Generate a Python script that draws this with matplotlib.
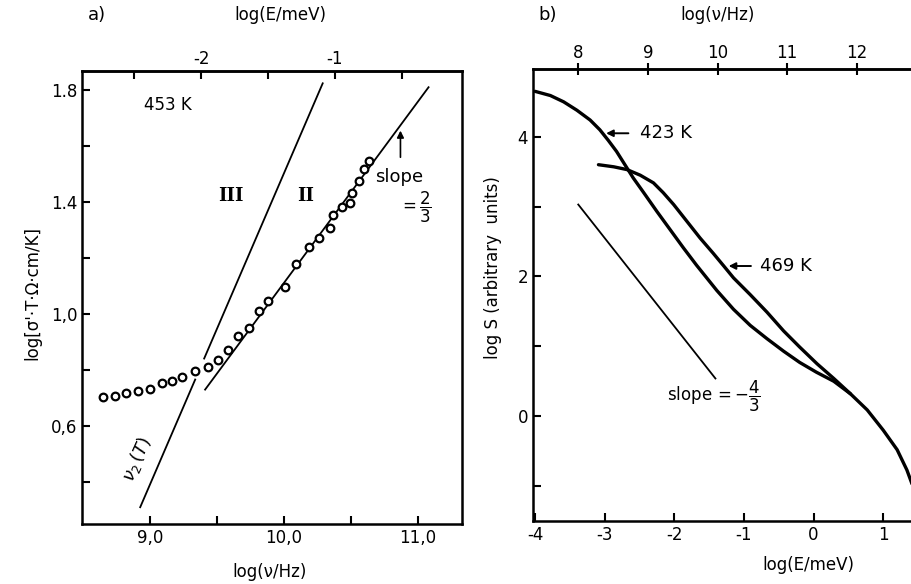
import numpy as np
import matplotlib
matplotlib.use("Agg")
import matplotlib.pyplot as plt
from matplotlib.ticker import FixedLocator, FixedFormatter

plt.rcParams['font.family'] = ['DejaVu Sans']
plt.rcParams['axes.unicode_minus'] = False

# h in meV*s -> log(E/meV) = log(nu/Hz) + LOG_H
LOG_H = -11.38

# panel a: measured points, log(nu/Hz) vs log(sigma' T)
nu_a = [8.644, 8.739, 8.821, 8.908, 9.000, 9.087, 9.166, 9.241, 9.336, 9.431,
        9.505, 9.580, 9.659, 9.739, 9.813, 9.883, 10.007, 10.087, 10.187, 10.263,
        10.343, 10.368, 10.431, 10.493, 10.505, 10.560, 10.599, 10.634]
sig_a = [0.703, 0.707, 0.717, 0.726, 0.733, 0.752, 0.762, 0.776, 0.797, 0.812,
         0.836, 0.871, 0.921, 0.949, 1.012, 1.048, 1.095, 1.177, 1.238, 1.270,
         1.308, 1.354, 1.383, 1.395, 1.431, 1.476, 1.517, 1.548]

# nu_2(T) line (two pieces, broken where it meets the data)
nu2_lo_x = [8.925, 9.336]
nu2_lo_y = [0.310, 0.766]
nu2_hi_x = [9.403, 10.289]
nu2_hi_y = [0.841, 1.824]

# slope 2/3 line
s23_x = [9.41, 11.08]
s23_y = [0.73, 1.81]

# panel b: log S vs log(E/meV)
E_423 = [-4.00, -3.78, -3.59, -3.40, -3.21, -3.07, -2.95, -2.83, -2.71, -2.59,
         -2.44, -2.25, -2.06, -1.87, -1.68, -1.39, -1.15, -0.91, -0.67, -0.43,
         -0.20, 0.04, 0.29, 0.53, 0.77, 1.00, 1.20, 1.34, 1.41, 1.47]
S_423 = [4.65, 4.59, 4.50, 4.38, 4.24, 4.10, 3.95, 3.79, 3.60, 3.41,
         3.20, 2.93, 2.67, 2.41, 2.16, 1.80, 1.53, 1.30, 1.11, 0.93,
         0.77, 0.63, 0.50, 0.32, 0.09, -0.20, -0.48, -0.77, -0.96, -1.12]
E_469 = [-3.09, -2.87, -2.68, -2.49, -2.30, -2.16, -2.01, -1.82, -1.63, -1.44,
         -1.29, -1.15, -0.91, -0.67, -0.43, -0.20, 0.05, 0.29, 0.53]
S_469 = [3.60, 3.57, 3.53, 3.45, 3.34, 3.20, 3.03, 2.79, 2.55, 2.33,
         2.15, 1.98, 1.74, 1.49, 1.22, 0.99, 0.75, 0.54, 0.32]

s43_x = [-3.38, -1.41]
s43_y = [3.03, 0.54]

fig = plt.figure(figsize=(9.11, 5.84), dpi=100)
W, H = 911.0, 584.0


def box(x0, y0, x1, y1):
    return [x0 / W, 1 - y1 / H, (x1 - x0) / W, (y1 - y0) / H]


lw_sp = 1.8
fs = 12

# ---------------- panel a ----------------
ax = fig.add_axes(box(82, 71, 462, 524))
ax.set_xlim(8.49, 11.33)
ax.set_ylim(0.25, 1.868)
for s in ax.spines.values():
    s.set_linewidth(lw_sp)

ax.plot(nu2_lo_x, nu2_lo_y, color='k', lw=1.3)
ax.plot(nu2_hi_x, nu2_hi_y, color='k', lw=1.3)
ax.plot(s23_x, s23_y, color='k', lw=1.3, zorder=2)
ax.plot(nu_a, sig_a, 'o', ms=5.5, mfc='white', mec='k', mew=1.6, zorder=3)

ax.xaxis.set_major_locator(FixedLocator([9.0, 10.0, 11.0]))
ax.xaxis.set_major_formatter(FixedFormatter(['9,0', '10,0', '11,0']))
ax.xaxis.set_minor_locator(FixedLocator([9.5, 10.5]))
ax.yaxis.set_major_locator(FixedLocator([0.6, 1.0, 1.4, 1.8]))
ax.yaxis.set_major_formatter(FixedFormatter(['0,6', '1,0', '1.4', '1.8']))
ax.yaxis.set_minor_locator(FixedLocator([0.4, 0.8, 1.2, 1.6]))
ax.tick_params(which='both', direction='in', length=6, width=1.5, labelsize=fs, top=False)

top = ax.secondary_xaxis('top', functions=(lambda x: x + LOG_H, lambda e: e - LOG_H))
top.xaxis.set_major_locator(FixedLocator([-2, -1]))
top.xaxis.set_major_formatter(FixedFormatter(['-2', '-1']))
top.xaxis.set_minor_locator(FixedLocator([-2.5, -1.5, -0.5]))
top.tick_params(which='both', direction='in', length=6, width=1.5, labelsize=fs, pad=2)
top.spines['top'].set_linewidth(lw_sp)

ax.text(8.95, 1.73, '453 K', fontsize=fs)
ax.text(9.6, 1.42, 'III', fontsize=13, fontweight='bold', ha='center', va='center',
        family='serif')
ax.text(10.16, 1.42, 'II', fontsize=13, fontweight='bold', ha='center', va='center',
        family='serif')
ax.text(10.68, 1.49, 'slope', fontsize=fs + 1, va='center')
ax.text(10.98, 1.38, r'$=\dfrac{2}{3}$', fontsize=fs, ha='center', va='center')
ax.annotate('', xy=(10.87, 1.665), xytext=(10.87, 1.55),
            arrowprops=dict(arrowstyle='-|>', color='k', lw=1.2, mutation_scale=10))
ax.text(8.9, 0.48, r'$\nu_2\,(T)$', fontsize=fs + 1, rotation=66, ha='center', va='center')

fig.text(88 / W, 1 - 15 / H, 'a)', fontsize=fs + 1, ha='left', va='center')
fig.text(280 / W, 1 - 15 / H, 'log(E/meV)', fontsize=fs, ha='center', va='center')
fig.text(270 / W, 1 - 572 / H, 'log(ν/Hz)', fontsize=fs, ha='center', va='center')
fig.text(32 / W, 1 - 293 / H, "log[σ'·T·Ω·cm/K]", fontsize=fs, rotation=90,
         ha='center', va='center')

# ---------------- panel b ----------------
bx = fig.add_axes(box(533, 69, 925, 521))
bx.set_xlim(-4.03, 1.6)
bx.set_ylim(-1.5, 4.97)
for s in bx.spines.values():
    s.set_linewidth(lw_sp)
bx.spines['right'].set_visible(False)

bx.plot(E_423, S_423, color='k', lw=2.4, solid_capstyle='round', solid_joinstyle='round')
bx.plot(E_469, S_469, color='k', lw=2.4, solid_capstyle='round', solid_joinstyle='round')
bx.plot(s43_x, s43_y, color='k', lw=1.3)

bx.xaxis.set_major_locator(FixedLocator([-4, -3, -2, -1, 0, 1]))
bx.xaxis.set_major_formatter(FixedFormatter(['-4', '-3', '-2', '-1', '0', '1']))
bx.yaxis.set_major_locator(FixedLocator([0, 2, 4]))
bx.yaxis.set_major_formatter(FixedFormatter(['0', '2', '4']))
bx.yaxis.set_minor_locator(FixedLocator([-1, 1, 3]))
bx.tick_params(which='both', direction='in', length=6, width=1.5, labelsize=fs)

topb = bx.secondary_xaxis('top', functions=(lambda e: e - LOG_H, lambda x: x + LOG_H))
topb.xaxis.set_major_locator(FixedLocator([8, 9, 10, 11, 12]))
topb.xaxis.set_major_formatter(FixedFormatter(['8', '9', '10', '11', '12']))
topb.tick_params(which='both', direction='inout', length=8, width=1.5, labelsize=fs, pad=1)
topb.spines['top'].set_linewidth(lw_sp)

bx.annotate('', xy=(-3.02, 4.05), xytext=(-2.62, 4.05),
            arrowprops=dict(arrowstyle='-|>', color='k', lw=1.4, mutation_scale=10))
bx.text(-2.5, 4.05, '423 K', fontsize=fs + 1, va='center')
bx.annotate('', xy=(-1.26, 2.15), xytext=(-0.86, 2.15),
            arrowprops=dict(arrowstyle='-|>', color='k', lw=1.4, mutation_scale=10))
bx.text(-0.77, 2.15, '469 K', fontsize=fs + 1, va='center')
bx.text(-2.1, 0.28, r'slope$\,=-\dfrac{4}{3}$', fontsize=fs, va='center')

fig.text(538 / W, 1 - 15 / H, 'b)', fontsize=fs + 1, ha='left', va='center')
fig.text(718 / W, 1 - 15 / H, 'log(ν/Hz)', fontsize=fs, ha='center', va='center')
fig.text(808 / W, 1 - 565 / H, 'log(E/meV)', fontsize=fs, ha='center', va='center')
fig.text(493 / W, 1 - 268 / H, 'log S (arbitrary  units)', fontsize=fs, rotation=90,
         ha='center', va='center')

fig.savefig('out.png', dpi=100)
